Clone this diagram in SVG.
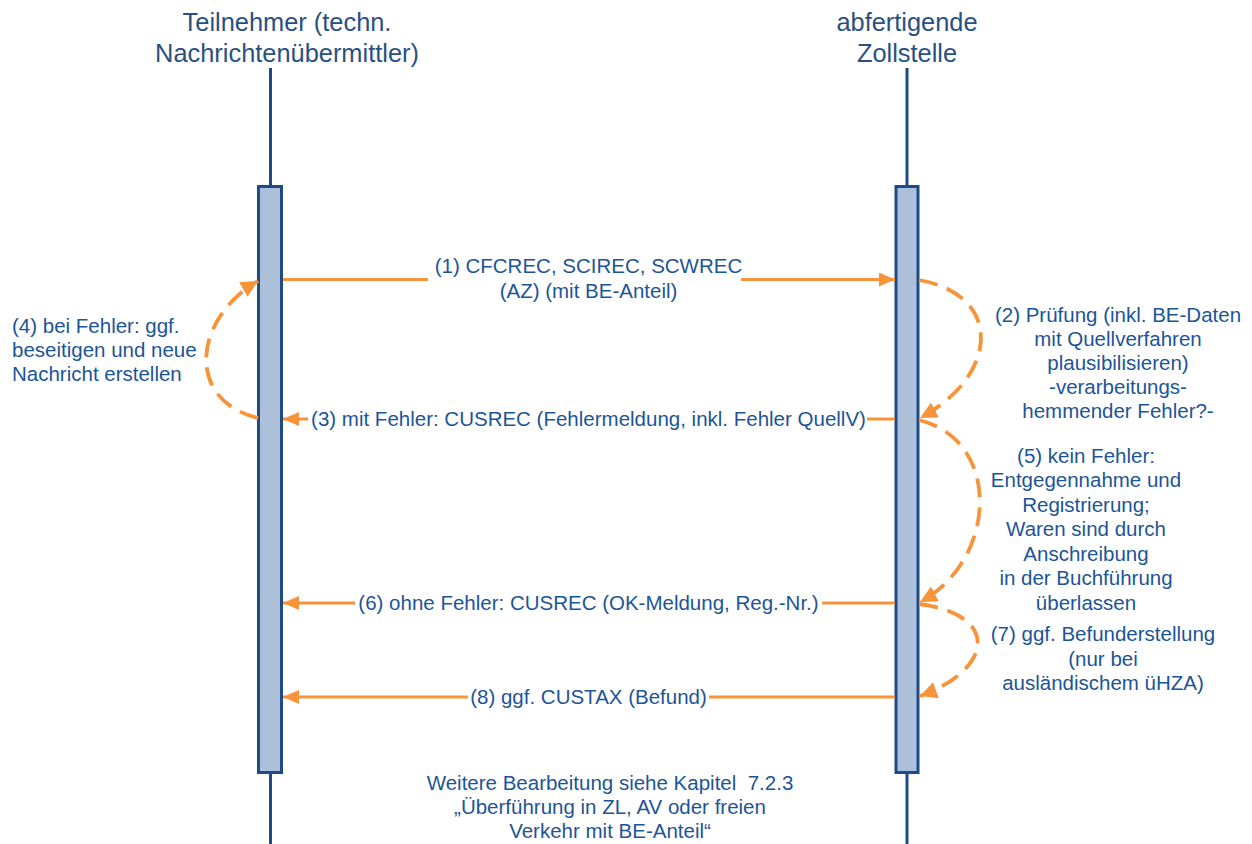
<svg xmlns="http://www.w3.org/2000/svg" width="1252" height="844" viewBox="0 0 1252 844">
<style>
.title{font-family:"Liberation Sans",Arial,sans-serif;font-size:25.4px;fill:#2a5082;text-anchor:middle}
.lbl{font-family:"Liberation Sans",Arial,sans-serif;font-size:20.5px;fill:#1c5597}
.c{text-anchor:middle}
.life{stroke:#1f4a85;stroke-width:3;fill:none}
.bar{fill:#adc0d9;stroke:#1f4a85;stroke-width:3}
.msg{stroke:#f7943a;stroke-width:3;fill:none;marker-end:url(#ah)}
.self{stroke:#f7943a;stroke-width:3.8;fill:none;stroke-dasharray:19 10;marker-end:url(#ah2)}
.bg{fill:#ffffff}
</style>
<defs>
<marker id="ah" markerUnits="userSpaceOnUse" markerWidth="16" markerHeight="14" refX="16" refY="7" orient="auto">
<path d="M0,0 L16,7 L0,14 z" fill="#f7943a"/>
</marker>
<marker id="ah2" markerUnits="userSpaceOnUse" markerWidth="19" markerHeight="19" refX="17" refY="9.5" orient="auto">
<path d="M0,1 L17,9.5 L0,18 z" fill="#f7943a"/>
</marker>
</defs>
<rect width="1252" height="844" fill="#ffffff"/>

<g id="participant-teilnehmer">
<text class="title" x="287" y="31">Teilnehmer (techn.</text>
<text class="title" x="287" y="62">Nachrichtenübermittler)</text>
<line class="life" x1="270.5" y1="68" x2="270.5" y2="844"/>
<rect class="bar" x="258.5" y="186.5" width="23" height="586"/>
</g>

<g id="participant-zollstelle">
<text class="title" x="907" y="31">abfertigende</text>
<text class="title" x="907" y="62">Zollstelle</text>
<line class="life" x1="907" y1="68" x2="907" y2="844"/>
<rect class="bar" x="896" y="186.5" width="22" height="586"/>
</g>

<g id="connectors">
<line class="msg" x1="283" y1="279.5" x2="895" y2="279.5"/>
<line class="msg" x1="895" y1="419" x2="283" y2="419"/>
<line class="msg" x1="895" y1="603" x2="283" y2="603"/>
<line class="msg" x1="895" y1="697" x2="283" y2="697"/>
<path class="self" d="M919,280 C1003,295 1000,375 920,418"/>
<path class="self" d="M919,420 C1002,440 998,560 920,602"/>
<path class="self" d="M919,604 C1002,615 992,670 920,696"/>
<path class="self" d="M258,418 C184,400 194,318 258,281"/>
</g>

<g id="label-1">
<rect class="bg" x="428" y="256" width="313" height="48"/>
<text class="lbl c" x="588.5" y="273">(1) CFCREC, SCIREC, SCWREC</text>
<text class="lbl c" x="588.5" y="298">(AZ) (mit BE-Anteil)</text>
</g>
<g id="label-2">
<text class="lbl c" x="1118" y="322">(2) Prüfung (inkl. BE-Daten</text>
<text class="lbl c" x="1118" y="346">mit Quellverfahren</text>
<text class="lbl c" x="1118" y="370">plausibilisieren)</text>
<text class="lbl c" x="1118" y="394">-verarbeitungs-</text>
<text class="lbl c" x="1118" y="418">hemmender Fehler?-</text>
</g>
<g id="label-3">
<rect class="bg" x="308" y="408" width="559" height="22"/>
<text class="lbl c" x="588.5" y="426">(3) mit Fehler: CUSREC (Fehlermeldung, inkl. Fehler QuellV)</text>
</g>
<g id="label-4">
<text class="lbl" x="12" y="333">(4) bei Fehler: ggf.</text>
<text class="lbl" x="12" y="357">beseitigen und neue</text>
<text class="lbl" x="12" y="381">Nachricht erstellen</text>
</g>
<g id="label-5">
<text class="lbl c" x="1086" y="463">(5) kein Fehler:</text>
<text class="lbl c" x="1086" y="487">Entgegennahme und</text>
<text class="lbl c" x="1086" y="512">Registrierung;</text>
<text class="lbl c" x="1086" y="536">Waren sind durch</text>
<text class="lbl c" x="1086" y="561">Anschreibung</text>
<text class="lbl c" x="1086" y="585">in der Buchführung</text>
<text class="lbl c" x="1086" y="610">überlassen</text>
</g>
<g id="label-6">
<rect class="bg" x="355" y="592" width="467" height="22"/>
<text class="lbl c" x="588.5" y="610">(6) ohne Fehler: CUSREC (OK-Meldung, Reg.-Nr.)</text>
</g>
<g id="label-7">
<text class="lbl c" x="1103" y="641">(7) ggf. Befunderstellung</text>
<text class="lbl c" x="1103" y="666">(nur bei</text>
<text class="lbl c" x="1103" y="690">ausländischem üHZA)</text>
</g>
<g id="label-8">
<rect class="bg" x="468" y="686" width="241" height="22"/>
<text class="lbl c" x="588.5" y="704">(8) ggf. CUSTAX (Befund)</text>
</g>
<g id="note">
<text class="lbl c" x="610" y="790" xml:space="preserve">Weitere Bearbeitung siehe Kapitel  7.2.3</text>
<text class="lbl c" x="610" y="814">„Überführung in ZL, AV oder freien</text>
<text class="lbl c" x="610" y="838">Verkehr mit BE-Anteil“</text>
</g>
</svg>
